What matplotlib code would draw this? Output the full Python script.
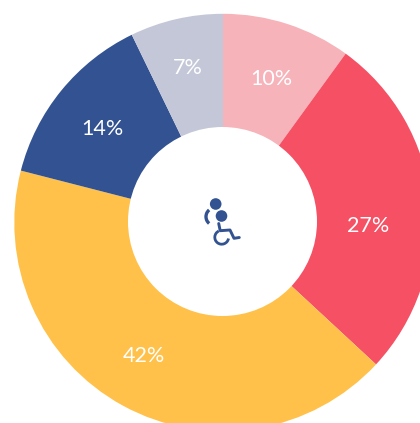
import matplotlib
matplotlib.use("Agg")
import matplotlib.pyplot as plt
from matplotlib.patches import Arc, Circle

values = [10, 26.9, 42.1, 13.8, 7.2]
colors = ["#F6B3BA", "#F55064", "#FFC14A", "#325291", "#C4C7D7"]
labels = ["10%", "27%", "42%", "14%", "7%"]

# label centres were placed by hand in the original, in picture pixels
label_x = [271, 368, 144, 102, 188]
label_y = [78.5, 225.5, 356.5, 128.5, 67.5]

icon_color = "#325291"
H = 423


def py(y):
    # picture rows run downwards, axes run upwards
    return H - y


fig = plt.figure(figsize=(4.2, 4.23), dpi=100)
ax = fig.add_axes([0, 0, 1, 1])

ax.pie(values, colors=colors, startangle=90, counterclock=False,
       center=(223, py(222.5)), radius=208.7, wedgeprops=dict(linewidth=0))

ax.set_xlim(0, 420)
ax.set_ylim(0, H)
ax.set_aspect("equal")
ax.axis("off")

# hole sits a touch off centre
ax.add_patch(Circle((222.5, py(221.5)), 94.5, color="white", lw=0, zorder=3))

for x, y, s in zip(label_x, label_y, labels):
    ax.text(x, py(y), s, color="white", fontsize=15.5, ha="center", va="center",
            family=["Lato", "DejaVu Sans"], zorder=4)

# wheelchair icon in the hole
ax.add_patch(Circle((215.7, py(204)), 5.8, color=icon_color, lw=0, zorder=4))
ax.add_patch(Circle((221.5, py(216)), 5.8, color=icon_color, lw=0, zorder=4))
ax.add_patch(Arc((214.8, py(216.7)), 17.6, 17.6, theta1=130, theta2=230,
                 color=icon_color, lw=2.4, zorder=4))
ax.add_patch(Arc((221.7, py(237.3)), 13.8, 13.8, theta1=115, theta2=350,
                 color=icon_color, lw=2.0, zorder=4))
ax.plot([218.7, 220.2, 230, 234, 239.3],
        [py(223.5), py(230.7), py(230), py(238.3), py(237.5)],
        color=icon_color, lw=2.1, solid_capstyle="round", solid_joinstyle="round", zorder=4)

fig.savefig("out.png", dpi=100)
